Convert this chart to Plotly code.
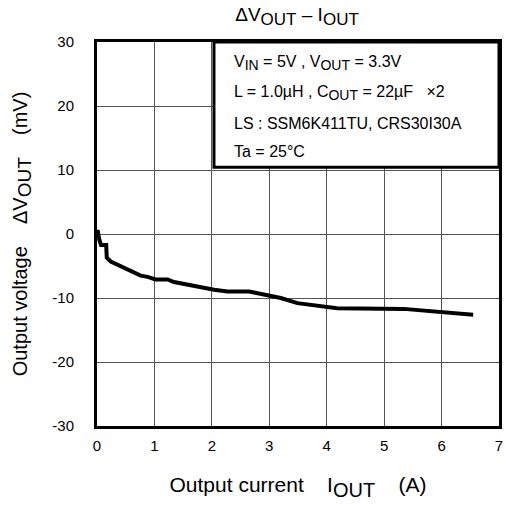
"""Output voltage deviation vs output current chart."""

import plotly.graph_objects as go

# I_OUT (A) and ΔV_OUT (mV)
current = [0.0, 0.01, 0.04, 0.07, 0.16, 0.17, 0.24, 0.42, 0.59, 0.76, 0.88, 1.02, 1.23, 1.34,
           2.04, 2.27, 2.65, 3.02, 3.2, 3.49, 3.95, 4.18, 5.34, 5.98, 6.15, 6.55]
voltage = [0.3, 0.6, -0.9, -1.7, -1.7, -3.7, -4.3, -5.1, -5.8, -6.5, -6.7, -7.1, -7.1, -7.5,
           -8.7, -9.0, -9.0, -9.6, -10.0, -10.8, -11.4, -11.6, -11.7, -12.1, -12.25, -12.6]

x_ticks = [0, 1, 2, 3, 4, 5, 6, 7]
y_ticks = [-30, -20, -10, 0, 10, 20, 30]
y_tick_text = ["-30", "-20", "-10", "0", "10", "20", "30"]


def sub(s, size):
    return f"<sub><span style='font-size:{size}px'>{s}</span></sub>"


conditions = [
    f"V{sub('IN', 14)} = 5V , V{sub('OUT', 14)} = 3.3V",
    f"L = 1.0µH , C{sub('OUT', 14)} = 22µF   ×2",
    "LS : SSM6K411TU, CRS30I30A",
    "Ta = 25°C",
]

FONT = "Liberation Sans, Arial, sans-serif"

fig = go.Figure(go.Scatter(
    x=current,
    y=voltage,
    mode="lines",
    line=dict(color="black", width=4),
    showlegend=False,
))

axis_common = dict(
    showgrid=True,
    gridcolor="#555555",
    gridwidth=1,
    zeroline=False,
    showline=True,
    linecolor="black",
    linewidth=3,
    mirror=True,
    ticks="",
    automargin=False,
    ticklabeloverflow="allow",
    tickfont=dict(family=FONT, size=15, color="black"),
)

fig.update_layout(
    width=506,
    height=506,
    paper_bgcolor="white",
    plot_bgcolor="white",
    margin=dict(l=97, r=7, t=42, b=80),
    font=dict(family=FONT, color="black"),
    title=dict(
        text=f"ΔV{sub('OUT', 17)} – I{sub('OUT', 17)}",
        x=0.587, xanchor="center", y=0.972, yanchor="middle",
        font=dict(family=FONT, size=19, color="black"),
    ),
    xaxis=dict(
        axis_common,
        range=[0, 7],
        tickvals=x_ticks,
        ticklabelstandoff=4,
        title=dict(text=f"Output current    I{sub('OUT', 20)}    (A)",
                   font=dict(family=FONT, size=21), standoff=25),
    ),
    yaxis=dict(
        axis_common,
        range=[-30, 30],
        tickvals=y_ticks,
        ticktext=y_tick_text,
        ticklabelstandoff=17,
        title=dict(text=f"Output voltage    ΔV{sub('OUT', 19)}    (mV)",
                   font=dict(family=FONT, size=20), standoff=20),
    ),
)

# condition box in the upper right corner
fig.add_shape(
    type="rect", xref="paper", yref="paper",
    x0=0.291, x1=1.0, y0=0.674, y1=1.0,
    line=dict(color="black", width=3),
    fillcolor="white",
    layer="above",
)

row_y = [0.945, 0.867, 0.789, 0.714]
for text, y in zip(conditions, row_y):
    fig.add_annotation(
        text=text, xref="paper", yref="paper",
        x=0.336, y=y, xanchor="left", yanchor="middle",
        showarrow=False,
        font=dict(family=FONT, size=16, color="black"),
    )

fig.write_html("out.html", config={"displayModeBar": False},
               post_script="document.body.style.margin='0';")
